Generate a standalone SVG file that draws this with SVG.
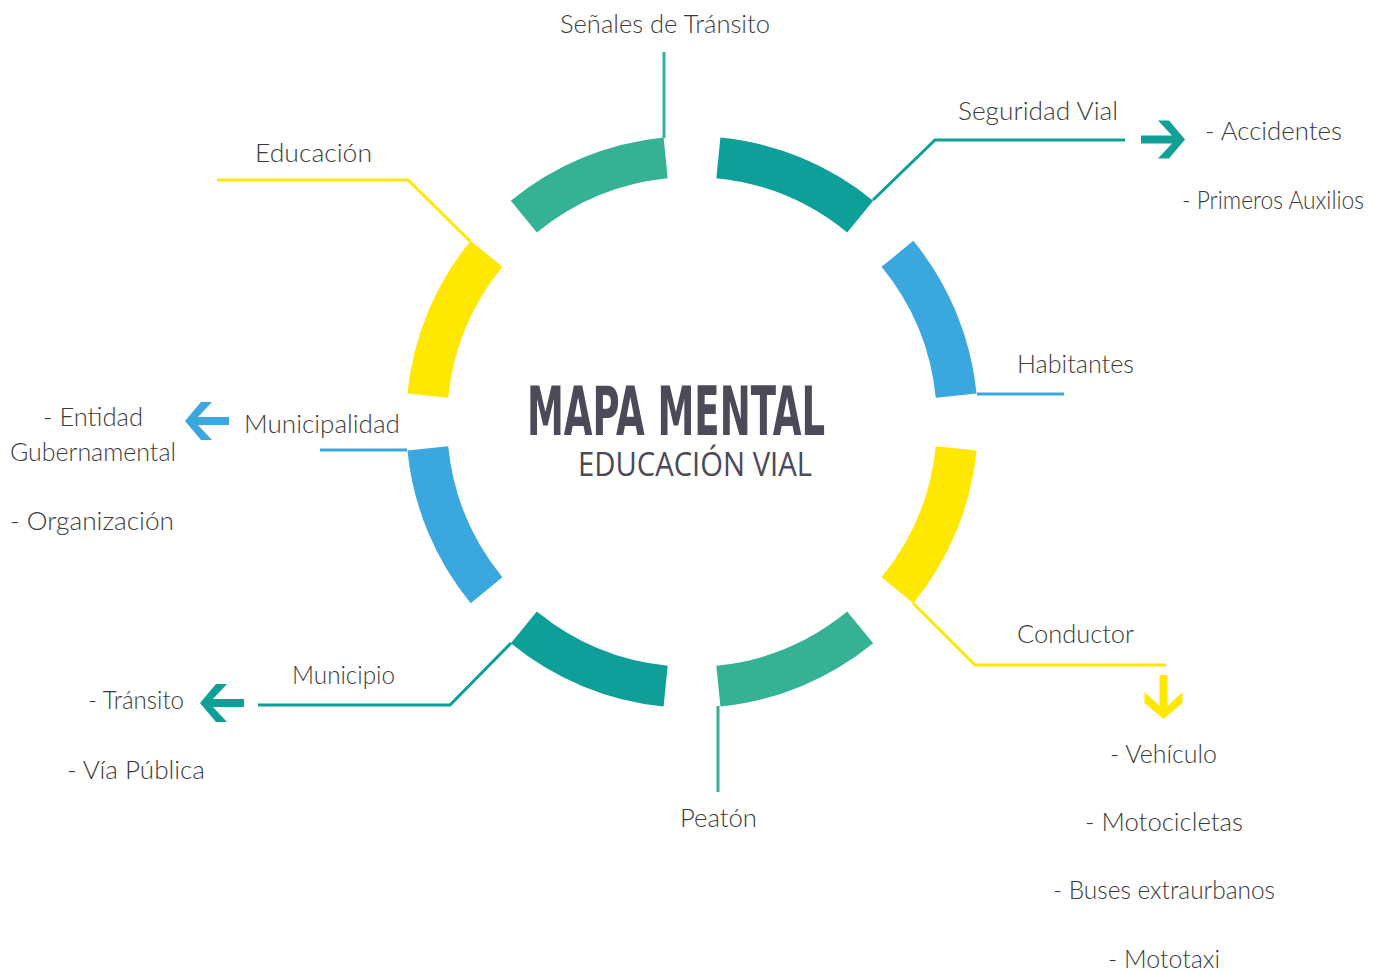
<svg xmlns="http://www.w3.org/2000/svg" xmlns:xlink="http://www.w3.org/1999/xlink" width="1384" height="972" viewBox="0 0 1384 972">
<style>
.lbl{font-family:"Lato","Open Sans","Liberation Sans",sans-serif;font-weight:300;font-size:26px;fill:#3b3b3b}
.ln{fill:none;stroke-width:3}
.tl{fill:#35b194}
.td{fill:#0d9f98}
.bl{fill:#3aa7df}
.ye{fill:#ffe800}
</style>
<defs>
<polygon id="arr" points="0,0 -16,-19 -27,-19 -13,-4 -44,-4 -44,4 -13,4 -27,19 -16,19"/>
</defs>
<rect width="1384" height="972" fill="#ffffff"/>
<g id="ring">
<path class="ye" d="M976.59,450.41 A286,286 0 0 1 913.32,603.15 L881.59,577.18 A245,245 0 0 0 935.79,446.33 Z"/>
<path class="tl" d="M873.15,643.32 A286,286 0 0 1 720.41,706.59 L716.33,665.79 A245,245 0 0 0 847.18,611.59 Z"/>
<path class="td" d="M663.59,706.59 A286,286 0 0 1 510.85,643.32 L536.82,611.59 A245,245 0 0 0 667.67,665.79 Z"/>
<path class="bl" d="M470.68,603.15 A286,286 0 0 1 407.41,450.41 L448.21,446.33 A245,245 0 0 0 502.41,577.18 Z"/>
<path class="ye" d="M407.41,393.59 A286,286 0 0 1 470.68,240.85 L502.41,266.82 A245,245 0 0 0 448.21,397.67 Z"/>
<path class="tl" d="M510.85,200.68 A286,286 0 0 1 663.59,137.41 L667.67,178.21 A245,245 0 0 0 536.82,232.41 Z"/>
<path class="td" d="M720.41,137.41 A286,286 0 0 1 873.15,200.68 L847.18,232.41 A245,245 0 0 0 716.33,178.21 Z"/>
<path class="bl" d="M913.32,240.85 A286,286 0 0 1 976.59,393.59 L935.79,397.67 A245,245 0 0 0 881.59,266.82 Z"/>
</g>
<g id="center">
<text x="527" y="435" textLength="298" lengthAdjust="spacingAndGlyphs" style="font-family:'Liberation Sans Narrow','DejaVu Sans Condensed','Liberation Sans',sans-serif;font-weight:bold;font-size:68px;fill:#4a4a58">MAPA MENTAL</text>
<text x="578" y="476" textLength="234" lengthAdjust="spacingAndGlyphs" style="font-family:'Open Sans','Liberation Sans',sans-serif;font-size:32px;fill:#4a4a58">EDUCACIÓN VIAL</text>
</g>
<g id="connectors">
<polyline class="ln" stroke="#35b194" points="664,52 664,138"/>
<polyline class="ln" stroke="#0d9f98" points="873,200 935,140 1125,140"/>
<polyline class="ln" stroke="#ffe800" points="217,180 408,180 470,241"/>
<polyline class="ln" stroke="#3aa7df" points="977,394 1064,394"/>
<polyline class="ln" stroke="#3aa7df" points="407,450 320,450"/>
<polyline class="ln" stroke="#ffe800" points="913,603 975,665 1166,665"/>
<polyline class="ln" stroke="#0d9f98" points="511,643 450,705 258,705"/>
<polyline class="ln" stroke="#35b194" points="718,706 718,792"/>
<use xlink:href="#arr" fill="#10a096" transform="translate(1185,139.5)"/>
<use xlink:href="#arr" fill="#ffe800" transform="translate(1163.5,719) rotate(90)"/>
<use xlink:href="#arr" fill="#3aa7df" transform="translate(185,421) rotate(180)"/>
<use xlink:href="#arr" fill="#0d9f98" transform="translate(200,703) rotate(180)"/>
</g>
<g id="senales"><text class="lbl" x="560" y="33" textLength="210" lengthAdjust="spacingAndGlyphs">Señales de Tránsito</text></g>
<g id="educacion"><text class="lbl" x="255" y="162" textLength="117" lengthAdjust="spacingAndGlyphs">Educación</text></g>
<g id="seguridad">
<text class="lbl" x="958" y="120" textLength="160" lengthAdjust="spacingAndGlyphs">Seguridad Vial</text>
<text class="lbl" x="1205" y="140" textLength="137" lengthAdjust="spacingAndGlyphs">- Accidentes</text>
<text class="lbl" x="1182" y="209" textLength="182" lengthAdjust="spacingAndGlyphs">- Primeros Auxilios</text>
</g>
<g id="habitantes"><text class="lbl" x="1017" y="373" textLength="117" lengthAdjust="spacingAndGlyphs">Habitantes</text></g>
<g id="municipalidad">
<text class="lbl" x="244" y="433" textLength="156" lengthAdjust="spacingAndGlyphs">Municipalidad</text>
<text class="lbl" x="43" y="426" textLength="100" lengthAdjust="spacingAndGlyphs">- Entidad</text>
<text class="lbl" x="10" y="461" textLength="166" lengthAdjust="spacingAndGlyphs">Gubernamental</text>
<text class="lbl" x="10" y="530" textLength="164" lengthAdjust="spacingAndGlyphs">- Organización</text>
</g>
<g id="conductor">
<text class="lbl" x="1017" y="643" textLength="117" lengthAdjust="spacingAndGlyphs">Conductor</text>
<text class="lbl" x="1110" y="763" textLength="107" lengthAdjust="spacingAndGlyphs">- Vehículo</text>
<text class="lbl" x="1085" y="831" textLength="158" lengthAdjust="spacingAndGlyphs">- Motocicletas</text>
<text class="lbl" x="1053" y="899" textLength="222" lengthAdjust="spacingAndGlyphs">- Buses extraurbanos</text>
<text class="lbl" x="1108" y="968" textLength="112" lengthAdjust="spacingAndGlyphs">- Mototaxi</text>
</g>
<g id="municipio">
<text class="lbl" x="292" y="684" textLength="103" lengthAdjust="spacingAndGlyphs">Municipio</text>
<text class="lbl" x="88" y="709" textLength="96" lengthAdjust="spacingAndGlyphs">- Tránsito</text>
<text class="lbl" x="67" y="779" textLength="138" lengthAdjust="spacingAndGlyphs">- Vía Pública</text>
</g>
<g id="peaton"><text class="lbl" x="680" y="827" textLength="77" lengthAdjust="spacingAndGlyphs">Peatón</text></g>
</svg>
